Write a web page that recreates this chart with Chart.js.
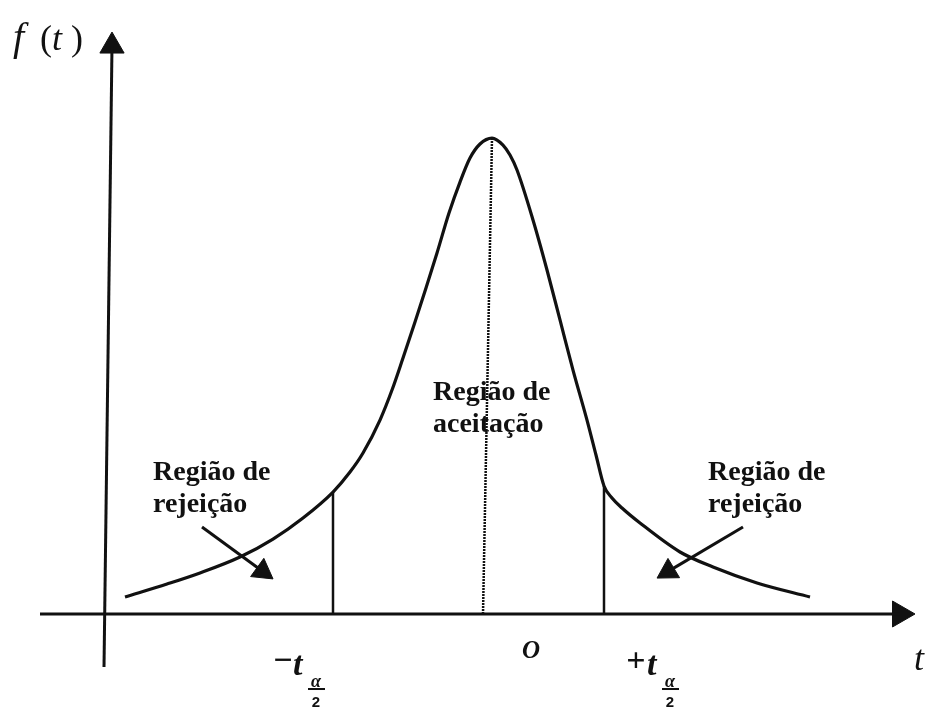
<!DOCTYPE html>
<html>
<head>
<meta charset="utf-8">
<script src="https://cdn.jsdelivr.net/npm/chart.js@4/dist/chart.umd.min.js"></script>
<style>
  html, body { margin: 0; padding: 0; background: #fff; }
  #wrap { width: 926px; height: 708px; position: relative; }
</style>
</head>
<body>
<div id="wrap"><canvas id="c"></canvas></div>
<script>
// Student t density sketch with the two-tailed rejection regions.

const curveT = [-3.67, -3.25, -2.92, -2.52, -2.19, -1.89, -1.59, -1.42, -1.29, -1.12, -1.00, -0.89,
  -0.77, -0.66, -0.55, -0.43, -0.32, -0.22, -0.12, 0, 0.11, 0.18, 0.25, 0.41, 0.55, 0.68, 0.81,
  0.95, 1.04, 1.12, 1.20, 1.30, 1.48, 1.88, 2.21, 2.65, 3.18];
const curveF = [0.0143, 0.0252, 0.0345, 0.0479, 0.0630, 0.0807, 0.1025, 0.1193, 0.1353, 0.1630, 0.1882, 0.2151,
  0.2454, 0.2739, 0.3034, 0.3370, 0.3630, 0.3832, 0.3950, 0.4000, 0.3941, 0.3857, 0.3731, 0.3311, 0.2891, 0.2471, 0.2050,
  0.1630, 0.1336, 0.1076, 0.0975, 0.0891, 0.0765, 0.0521, 0.0395, 0.0261, 0.0143];

// critical values -t(a/2), +t(a/2) and the density at each
const critT = [-1.59, 1.12];
const critF = [0.1025, 0.1076];

// centre line from the peak down to the axis
const centreT = [0, -0.09];
const centreF = [0.40, 0];

// axes (t range, f range)
const axisT = [-4.52, 4.08];
const axisYT = [-3.88, -3.80];
const axisYF = [-0.0445, 0.4773];

// pointers from the "rejeição" captions into each tail
const leftPointerT = [-2.90, -2.295];
const leftPointerF = [0.0731, 0.0359];
const rightPointerT = [2.51, 1.762];
const rightPointerF = [0.0731, 0.0358];

const regionTitle = "Região de";
const rejectWord = "rejeição";
const acceptWord = "aceitação";

const pts = (xs, ys) => xs.map((x, i) => ({ x, y: ys[i] }));
const INK = "#111";

const seg = (data, width, extra = {}) => Object.assign({
  data, showLine: true, borderColor: INK, borderWidth: width, pointRadius: 0,
  pointHoverRadius: 0, fill: false,
}, extra);

const heads = [
  { x: axisYT[1], y: axisYF[1] },          // f(t) axis
  { x: axisT[1], y: 0 },                   // t axis
  { x: leftPointerT[1], y: leftPointerF[1] },
  { x: rightPointerT[1], y: rightPointerF[1] },
];

// captions and axis symbols, drawn after the marks
const textPlugin = {
  id: "captions",
  afterDatasetsDraw(chart) {
    const { ctx, scales: { x, y } } = chart;
    const px = (t) => x.getPixelForValue(t);
    const py = (f) => y.getPixelForValue(f);
    ctx.save();
    ctx.fillStyle = INK;
    ctx.textBaseline = "alphabetic";

    const put = (s, t, f, font, align = "left") => {
      ctx.font = font;
      ctx.textAlign = align;
      ctx.fillText(s, px(t), py(f));
    };
    const cap = 'bold 28px "Liberation Serif"';
    put(regionTitle, -3.39, 0.1126, cap);
    put(rejectWord, -3.39, 0.0857, cap);
    put(regionTitle, 2.16, 0.1126, cap);
    put(rejectWord, 2.16, 0.0857, cap);
    put(regionTitle, -0.59, 0.1798, cap);
    put(acceptWord, -0.59, 0.1530, cap);

    // f(t)
    put("f", -4.79, 0.4740, 'italic 40px "Liberation Serif"');
    put("(", -4.52, 0.4740, '36px "Liberation Serif"');
    put("t", -4.40, 0.4740, 'italic 36px "Liberation Serif"');
    put(")", -4.21, 0.4740, '36px "Liberation Serif"');

    // t at the end of the axis
    put("t", 4.22, -0.0470, 'italic 36px "Liberation Serif"');

    // origin
    put("O", 0.30, -0.0370, 'bold italic 25px "Liberation Serif"');

    // -t(a/2) and +t(a/2)
    const critLabel = (sign, signT, tT, fracT) => {
      put(sign, signT, -0.0480, 'bold 34px "Liberation Serif"', "center");
      put("t", tT, -0.0513, 'bold italic 34px "Liberation Serif"');
      put("\u03b1", fracT, -0.0613, 'bold italic 18px "Liberation Serif"', "center");
      ctx.fillRect(px(fracT) - 8, py(-0.0622), 17, 2);
      put("2", fracT, -0.0785, 'bold 15px "Liberation Sans"', "center");
    };
    critLabel("\u2212", -2.09, -1.99, -1.76);
    critLabel("+", 1.44, 1.55, 1.78);
    ctx.restore();
  },
};

new Chart(document.getElementById("c"), {
  type: "scatter",
  data: {
    datasets: [
      seg(pts(curveT, curveF), 3.2, { cubicInterpolationMode: "monotone" }),
      seg(pts([critT[0], critT[0]], [0, critF[0]]), 2.5),
      seg(pts([critT[1], critT[1]], [0, critF[1]]), 2.5),
      seg(pts(centreT, centreF), 2.5, { borderDash: [2, 1] }),
      seg(pts(axisT, [0, 0]), 3),
      seg(pts(axisYT, axisYF), 3),
      seg(pts(leftPointerT, leftPointerF), 3),
      seg(pts(rightPointerT, rightPointerF), 3),
      {
        data: heads, showLine: false, pointStyle: "triangle",
        pointRadius: [14, 15, 13, 13], pointRotation: [0, 90, 126, 239],
        backgroundColor: INK, borderColor: INK, borderWidth: 1, pointHoverRadius: 0,
      },
    ],
  },
  options: {
    responsive: true, maintainAspectRatio: false, animation: false,
    layout: { padding: 0, autoPadding: false },
    events: [],
    plugins: { legend: { display: false }, tooltip: { enabled: false } },
    scales: {
      x: { type: "linear", min: -4.92, max: 4.34, display: false },
      y: { type: "linear", min: -0.079, max: 0.516, display: false },
    },
  },
  plugins: [textPlugin],
});
</script>
</body>
</html>
